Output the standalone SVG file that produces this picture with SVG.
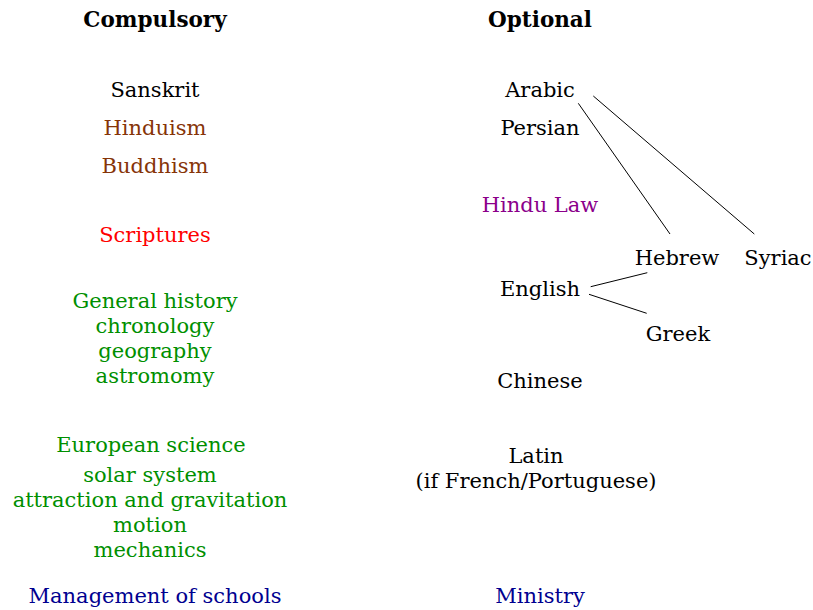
<svg xmlns="http://www.w3.org/2000/svg" width="813" height="610" viewBox="0 0 813 610">
<style>
text{font-family:"DejaVu Serif","Liberation Serif",serif;font-size:21px;text-anchor:middle;fill:#000}
.h{font-weight:bold;font-size:21.5px}
.br{fill:#863408}.rd{fill:#ff0000}.gr{fill:#008f00}.bl{fill:#000090}.pu{fill:#8b008b}
line{stroke:#000;stroke-width:1}
</style>
<rect width="813" height="610" fill="#fff"/>
<g id="compulsory"><text class="h" x="155" y="27">Compulsory</text></g>
<g id="optional"><text class="h" x="540" y="27">Optional</text></g>
<g id="sanskrit"><text x="155" y="97">Sanskrit</text></g>
<g id="hinduism"><text class="br" x="155" y="135">Hinduism</text></g>
<g id="buddhism"><text class="br" x="155" y="173">Buddhism</text></g>
<g id="scriptures"><text class="rd" x="155" y="242">Scriptures</text></g>
<g id="history"><text class="gr" x="155" y="308">General history</text><text class="gr" x="155" y="333">chronology</text><text class="gr" x="155" y="358">geography</text><text class="gr" x="155" y="383">astromomy</text></g>
<g id="science"><text class="gr" x="151" y="452">European science</text></g>
<g id="physics"><text class="gr" x="150" y="482">solar system</text><text class="gr" x="150" y="507">attraction and gravitation</text><text class="gr" x="150" y="532">motion</text><text class="gr" x="150" y="557">mechanics</text></g>
<g id="management"><text class="bl" x="155" y="603">Management of schools</text></g>
<g id="arabic"><text x="540" y="97">Arabic</text></g>
<g id="persian"><text x="540" y="135">Persian</text></g>
<g id="hindulaw"><text class="pu" x="540" y="212">Hindu Law</text></g>
<g id="hebrew"><text x="677" y="265">Hebrew</text></g>
<g id="syriac"><text x="778" y="265">Syriac</text></g>
<g id="english"><text x="540" y="296">English</text></g>
<g id="greek"><text x="678" y="341">Greek</text></g>
<g id="chinese"><text x="540" y="388">Chinese</text></g>
<g id="latin"><text x="536" y="463">Latin</text><text x="536" y="488">(if French/Portuguese)</text></g>
<g id="ministry"><text class="bl" x="540" y="603">Ministry</text></g>
<g id="connectors">
<line x1="578.3" y1="103.3" x2="670" y2="234"/>
<line x1="593.3" y1="96" x2="754.3" y2="234"/>
<line x1="590.7" y1="286.7" x2="647.3" y2="272.7"/>
<line x1="589" y1="294.3" x2="646.7" y2="313.3"/>
</g>
</svg>
